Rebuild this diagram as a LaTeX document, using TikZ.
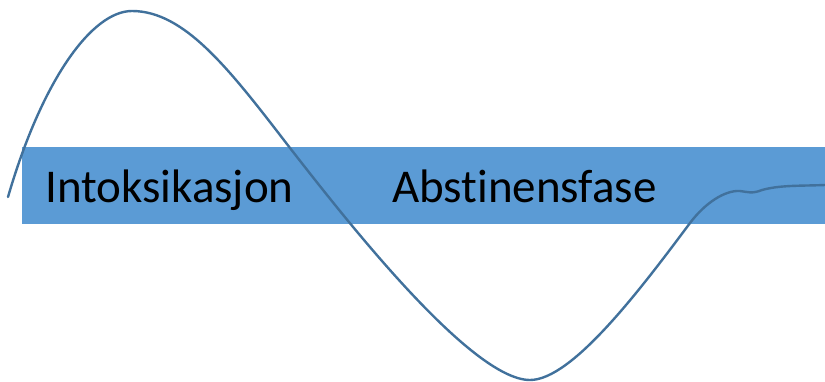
\documentclass[tikz,border=0pt]{standalone}
\usepackage{fontspec}
\setmainfont{Carlito}[Ligatures={NoCommon}]
\definecolor{bandblue}{HTML}{5B9BD5}
\definecolor{curveblue}{HTML}{41719C}
\tikzset{
  band/.style={fill=bandblue, draw=none},
  phase/.style={anchor=base west, inner sep=0pt, font=\fontsize{47}{56}\selectfont, text=black},
  wave/.style={draw=curveblue, line width=2.4pt, line cap=round, line join=round}
}
\begin{document}
\begin{tikzpicture}[x=1pt, y=-1pt]
  \useasboundingbox (0,0) rectangle (825,381);
  % horizontal band
  \fill[band] (22,147) rectangle (825,224);
  % phase labels
  \node[phase] (intox) at (45,202) {Intoksikasjon};
  \node[phase] (abst) at (392,202) {Abstinensfase};
  % wave through the phases
  \draw[wave] (8,197)
    .. controls (42,80) and (92,11) .. (132,11)
    .. controls (185,11) and (230,70) .. (290,148)
    .. controls (340,212) and (470,380) .. (530,380)
    .. controls (572,380) and (640,290) .. (690,223)
    .. controls (705,203) and (725,190) .. (740,191)
    .. controls (748,192) and (752,194) .. (762,190)
    .. controls (780,185) and (800,186) .. (825,185);
\end{tikzpicture}
\end{document}
